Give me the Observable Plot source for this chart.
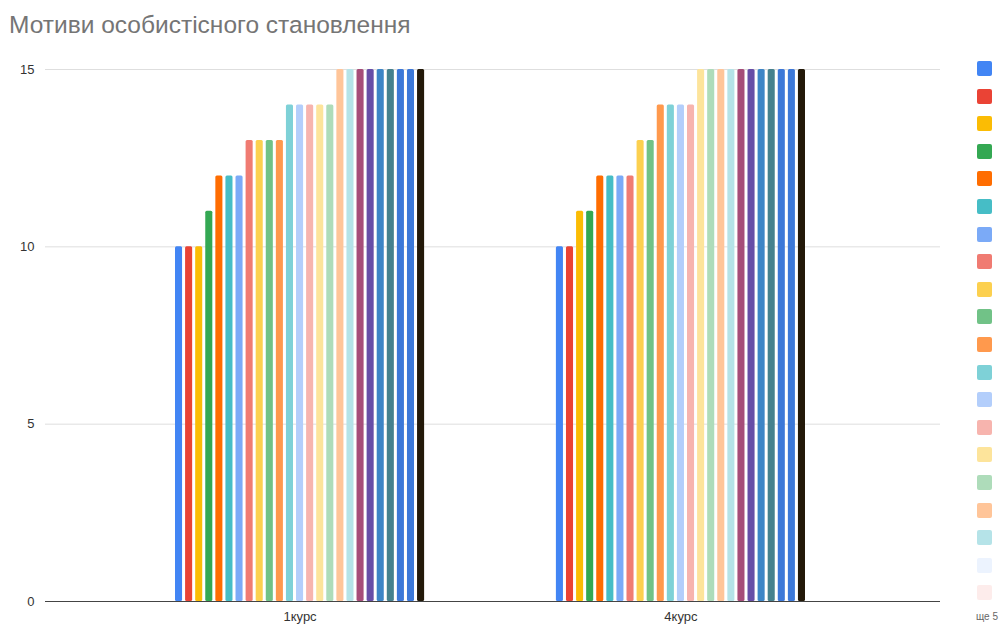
<!DOCTYPE html>
<html><head><meta charset="utf-8">
<script src="https://cdn.jsdelivr.net/npm/d3@7"></script>
<script src="https://cdn.jsdelivr.net/npm/@observablehq/plot@0.6"></script>
<style>
body{margin:0;background:#fff;font-family:"Liberation Sans",Arial,sans-serif;}
#wrap{position:relative;width:1008px;height:625px;overflow:hidden}
#bg,#chart{position:absolute;left:0;top:0}
#title{position:absolute;left:9px;top:11px;font-size:24.5px;line-height:1.15;color:#757575;white-space:nowrap}
#legend{position:absolute;left:977px;top:61px}
.sw{width:15px;height:15px;border-radius:2px;margin-bottom:12.6px}
#more{position:absolute;left:976px;top:611px;font-size:10px;color:#666}
</style></head>
<body>
<div id="wrap">
  <div id="bg"></div>
  <div id="chart"></div>
  <div id="title">Мотиви особистісного становлення</div>
  <div id="legend"></div>
  <div id="more">ще 5</div>
</div>
<script>
const groups = ["1курс", "4курс"];
const series = Array.from({length: 25}, (_, i) => `Мотив ${i + 1}`);
const values1 = [10,10,10,11,12,12,12,13,13,13,13,14,14,14,14,14,15,15,15,15,15,15,15,15,15];
const values4 = [10,10,11,11,12,12,12,12,13,13,14,14,14,14,15,15,15,15,15,15,15,15,15,15,15];
const yTicks = [0, 5, 10, 15];
const barColors = ["#4285F4","#EA4335","#FBBC04","#34A853","#FF6D01","#46BDC6","#7BAAF7","#F07B72","#FCD04F","#71C287","#FF994D","#7ED1D7","#B3CEFB","#F7B4AE","#FDE49B","#AEDCBA","#FFC599","#B5E3E8","#A64D79","#674EA7","#3D85C6","#45818E","#3C78D8","#3C78D8","#231909"];
const legendColors = ["#4285F4","#EA4335","#FBBC04","#34A853","#FF6D01","#46BDC6","#7BAAF7","#F07B72","#FCD04F","#71C287","#FF994D","#7ED1D7","#B3CEFB","#F7B4AE","#FDE49B","#AEDCBA","#FFC599","#B5E3E8","#ECF3FE","#FDECEB"];

const valuesByGroup = [values1, values4];
const data = [];
groups.forEach((g, gi) => series.forEach((s, i) => data.push({group: g, series: s, value: valuesByGroup[gi][i]})));

const dims = {width: 1008, height: 625, marginLeft: 45, marginRight: 68, marginTop: 69, marginBottom: 24};
const font = {fontFamily: "'Liberation Sans', Arial, sans-serif", background: "transparent"};

// background: grid lines and y axis across the full plot width
const bg = Plot.plot({
  ...dims,
  style: font,
  y: {domain: [0, 15], label: null, axis: null},
  marks: [
    Plot.ruleY(yTicks.filter(d => d > 0), {stroke: "#dedede", strokeWidth: 1}),
    Plot.axisY(yTicks, {tickSize: 0, tickPadding: 11, fontSize: 13, fill: "#333", label: null})
  ]
});
document.getElementById("bg").appendChild(bg);

// bars, faceted by group
const chart = Plot.plot({
  ...dims,
  marginLeft: 45.5, marginRight: 73.5,
  style: font,
  fx: {domain: groups, paddingInner: 0.346, paddingOuter: 0.34, round: false, label: null},
  x: {domain: series, paddingInner: 0.3, paddingOuter: 0, round: false, axis: null},
  y: {domain: [0, 15], label: null, axis: null},
  color: {domain: series, range: barColors},
  marks: [
    Plot.barY(data, {fx: "group", x: "series", y: "value", fill: "series", rx: 1.5}),
    Plot.axisFx({anchor: "bottom", tickSize: 0, tickPadding: 10, fontSize: 13, fill: "#333", label: null})
  ]
});
document.getElementById("chart").appendChild(chart);

// baseline on top of bars
const base = Plot.plot({
  ...dims,
  style: font,
  y: {domain: [0, 15], label: null, axis: null},
  marks: [Plot.ruleY([0], {stroke: "#444", strokeWidth: 1})]
});
base.style.position = "absolute"; base.style.left = "0"; base.style.top = "0";
document.getElementById("wrap").insertBefore(base, document.getElementById("title"));

const legend = document.getElementById("legend");
legendColors.forEach(c => {
  const d = document.createElement("div");
  d.className = "sw";
  d.style.background = c;
  legend.appendChild(d);
});
</script>
</body></html>
